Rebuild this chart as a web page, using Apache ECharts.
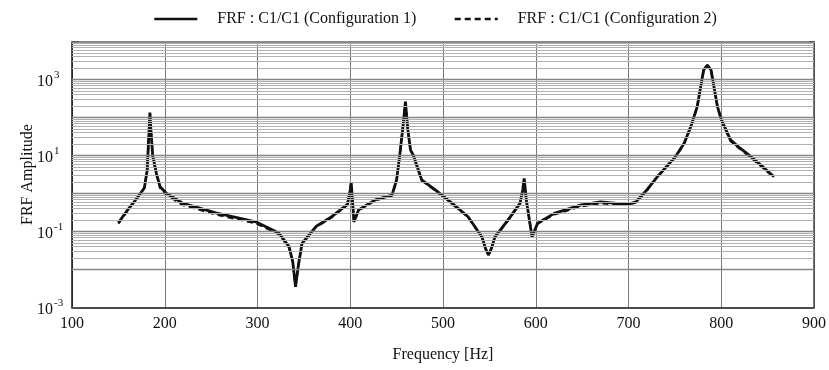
<!DOCTYPE html>
<html><head><meta charset="utf-8">
<script src="https://cdn.jsdelivr.net/npm/echarts@6/dist/echarts.min.js"></script>
<style>html,body{margin:0;padding:0;background:#fff}#c{width:829px;height:370px}</style>
</head><body><div id="c"></div>
<script>
// ---- data ----
const freq = [150,160,170,178,181,183,184,185,187,191,195,202,219,255,298,323,334,338,341,344,348,363,380,397,400,401,404,409,427,445,450,454,457,459.5,462,465,468,477,492,510,527,542,546,549,552,556,570,583,586,587.5,590,596,602,620,649,670,699,708,720,731,750,760,767,774,781,785,789,796,800,810,820,832,845,857];
const ampConfig1 = [0.17,0.37,0.75,1.4,4,40,134,50,10,3.4,1.5,1.0,0.56,0.31,0.18,0.091,0.04,0.016,0.0035,0.0126,0.049,0.135,0.245,0.52,1.26,2.0,0.18,0.37,0.68,0.91,2.3,13.8,63,263,50,13.8,10.2,2.3,1.23,0.55,0.245,0.072,0.035,0.024,0.035,0.072,0.2,0.55,1.26,2.5,0.63,0.072,0.166,0.3,0.5,0.6,0.52,0.6,1.26,2.75,8.9,21,56,190,1780,2400,1780,190,89,25.7,15.8,9.3,5,2.75];
const ampConfig2 = [0.16,0.36,0.74,1.4,4,40,130,48,9.6,3.2,1.4,0.92,0.5,0.28,0.165,0.085,0.038,0.016,0.0036,0.0125,0.047,0.13,0.235,0.5,1.2,1.9,0.18,0.36,0.66,0.88,2.2,13.5,62,255,49,13.5,10,2.2,1.2,0.53,0.24,0.07,0.034,0.024,0.034,0.07,0.195,0.54,1.22,2.4,0.62,0.072,0.16,0.28,0.46,0.55,0.5,0.58,1.22,2.7,8.7,20.5,55,185,1750,2350,1750,185,86,24,15,8.8,4.7,2.6];
const seriesNames = ['FRF : C1/C1 (Configuration 1)', 'FRF : C1/C1 (Configuration 2)'];
const xTickStep = 100;
const xRange = [100, 900];
const yRange = [0.001, 10000];
const decadeExps = [-3,-2,-1,0,1,2,3,4];
const minorMultipliers = [2,3,4,5,6,7,8,9];

const pairs = (xs, ys) => xs.map((x, i) => [x, ys[i]]);

// horizontal log grid lines via markLine (placed by the library's log scale)
const gridLines = [];
decadeExps.forEach(e => {
  const base = Math.pow(10, e);
  if (e > -3 && e < 4) gridLines.push({yAxis: base, lineStyle: {color: '#858585', width: 1.3, type: 'solid'}});
  if (e < 4) minorMultipliers.forEach(m => gridLines.push({yAxis: m * base, lineStyle: {color: '#b0b0b0', width: 1, type: 'solid'}}));
});

const font = 'Liberation Serif';
const chart = echarts.init(document.getElementById('c'), null, {renderer: 'canvas'});
chart.setOption({
  backgroundColor: '#fff',
  animation: false,
  textStyle: {fontFamily: font, color: '#111'},
  legend: {
    top: 6, left: 148, itemWidth: 43, itemHeight: 14, itemGap: 37,
    itemStyle: {opacity: 0},
    lineStyle: {width: 2.6},
    textStyle: {fontFamily: font, fontSize: 16, color: '#111', padding: [0, 0, 0, 15]},
    data: seriesNames
  },
  grid: {left: 72, right: 12, top: 41.5, bottom: 62.5, containLabel: false},
  xAxis: [{
    type: 'value', min: xRange[0], max: xRange[1], interval: xTickStep,
    name: 'Frequency [Hz]', nameLocation: 'middle', nameGap: 39,
    nameTextStyle: {fontFamily: font, fontSize: 16, color: '#111'},
    axisLine: {show: true, lineStyle: {color: '#111', width: 1.5}},
    axisTick: {show: false},
    axisLabel: {fontFamily: font, fontSize: 16, color: '#111', margin: 8},
    splitLine: {show: true, lineStyle: {color: '#7a7a7a', width: 1}}
  }, {
    type: 'value', position: 'top', min: xRange[0], max: xRange[1],
    axisLine: {show: true, lineStyle: {color: '#8a8a8a', width: 2}},
    axisTick: {show: false}, axisLabel: {show: false}, splitLine: {show: false}
  }],
  yAxis: [{
    type: 'log', logBase: 10, min: yRange[0], max: yRange[1],
    name: 'FRF Amplitude', nameLocation: 'middle', nameGap: 36, nameRotate: 90,
    nameMoveOverlap: false,
    nameTextStyle: {fontFamily: font, fontSize: 16, color: '#111'},
    axisLine: {show: true, lineStyle: {color: '#111', width: 1.5}},
    axisTick: {show: true, inside: true, length: 7, lineStyle: {color: '#555'}},
    axisLabel: {
      align: 'left', margin: 35,
      formatter: v => {
        const e = Math.round(Math.log10(v));
        if (Math.abs(e) % 2 !== 1) return '';
        return '{b|10}{s|' + (e < 0 ? '-' : '') + Math.abs(e) + '}';
      },
      rich: {
        b: {fontFamily: font, fontSize: 16, color: '#111', verticalAlign: 'bottom', lineHeight: 20},
        s: {fontFamily: font, fontSize: 11, color: '#111', verticalAlign: 'top', lineHeight: 20, padding: [0,0,0,1]}
      }
    },
    splitLine: {show: false}
  }, {
    type: 'log', logBase: 10, min: yRange[0], max: yRange[1], position: 'right',
    axisLine: {show: true, lineStyle: {color: '#444', width: 1.5}},
    axisTick: {show: true, inside: true, length: 5, lineStyle: {color: '#555'}},
    axisLabel: {show: false}, splitLine: {show: false}
  }],
  series: [{
    name: 'grid', type: 'line', data: [], silent: true, z: 1,
    markLine: {silent: true, symbol: 'none', label: {show: false}, animation: false, data: gridLines}
  }, {
    name: seriesNames[0], type: 'line', data: pairs(freq, ampConfig1),
    showSymbol: false, symbol: 'none', z: 3,
    lineStyle: {color: '#111', width: 2.8, type: 'solid'}, itemStyle: {color: '#111'}
  }, {
    name: seriesNames[1], type: 'line', data: pairs(freq, ampConfig2),
    showSymbol: false, symbol: 'none', z: 4,
    lineStyle: {color: '#111', width: 2.2, type: [6, 4]}, itemStyle: {color: '#111'}
  }]
});
</script>
</body></html>
